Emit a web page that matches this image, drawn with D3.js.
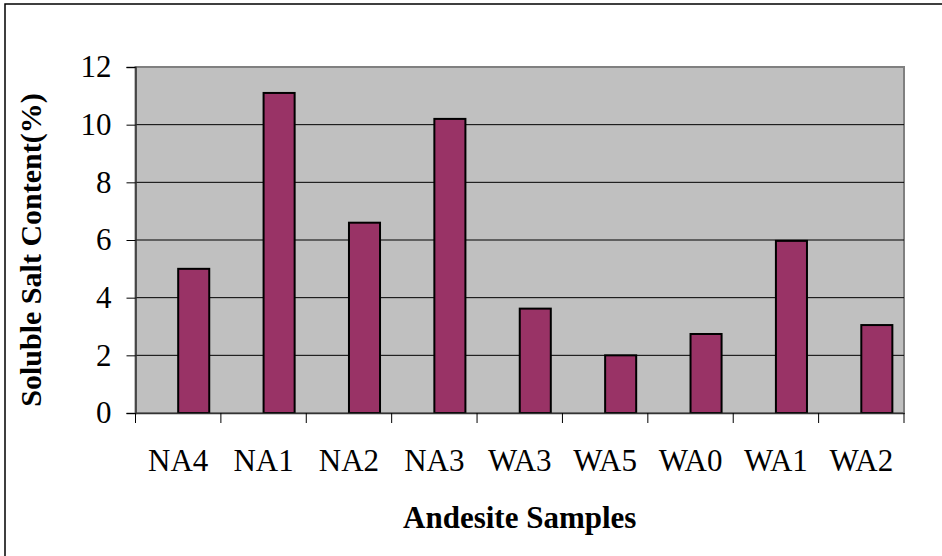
<!DOCTYPE html>
<html>
<head>
<meta charset="utf-8">
<script src="https://cdn.jsdelivr.net/npm/d3@7"></script>
<style>
  body { margin: 0; background: #fff; }
  svg { display: block; font-family: "Liberation Serif", "Times New Roman", serif; }
</style>
</head>
<body>
<svg id="chart" width="942" height="556"></svg>
<script>
// data
const samples = ["NA4", "NA1", "NA2", "NA3", "WA3", "WA5", "WA0", "WA1", "WA2"];
const saltContent = [5.0, 11.1, 6.6, 10.2, 3.62, 2.0, 2.74, 5.97, 3.05];
const yTicks = [0, 2, 4, 6, 8, 10, 12];

const svg = d3.select("#chart");
const plot = { left: 135.5, right: 904, top: 67, bottom: 413 };

// outer frame (only top/left fall inside the picture)
svg.append("rect")
  .attr("x", 5).attr("y", 4)
  .attr("width", 960).attr("height", 600)
  .attr("fill", "#fff").attr("stroke", "#000").attr("stroke-width", 1.5);

const x = d3.scaleBand()
  .domain(samples)
  .range([plot.left, plot.right])
  .padding(0);

// excel style: an empty first series, so bars sit right of centre
const xSub = d3.scaleBand()
  .domain(["blank", "value"])
  .range([0, x.bandwidth()])
  .paddingInner(0)
  .paddingOuter(0.375);

const y = d3.scaleLinear()
  .domain([0, 12])
  .range([plot.bottom, plot.top]);

// plot area
svg.append("rect")
  .attr("x", plot.left).attr("y", plot.top)
  .attr("width", plot.right - plot.left).attr("height", plot.bottom - plot.top)
  .attr("fill", "#c0c0c0").attr("stroke", "#808080").attr("stroke-width", 2);

// gridlines
svg.append("g")
  .selectAll("line")
  .data(yTicks.filter(d => d > 0 && d < 12))
  .join("line")
    .attr("x1", plot.left).attr("x2", plot.right)
    .attr("y1", d => y(d)).attr("y2", d => y(d))
    .attr("stroke", "#000").attr("stroke-width", 1);

// bars
svg.append("g")
  .selectAll("rect")
  .data(samples.map((s, i) => ({ s, v: saltContent[i] })))
  .join("rect")
    .attr("x", d => x(d.s) + xSub("value"))
    .attr("y", d => y(d.v))
    .attr("width", xSub.bandwidth())
    .attr("height", d => y(0) - y(d.v))
    .attr("fill", "#993366")
    .attr("stroke", "#000")
    .attr("stroke-width", 2);

// y axis
const yAxis = svg.append("g")
  .attr("transform", `translate(${plot.left},0)`)
  .call(d3.axisLeft(y).tickValues(yTicks).tickSize(9).tickPadding(15).tickFormat(d3.format("d")));
yAxis.select(".domain").attr("stroke", "#333").attr("stroke-width", 1.5);
yAxis.selectAll(".tick line").attr("stroke", "#000");
yAxis.selectAll("text").attr("font-size", 31).attr("fill", "#000")
  .attr("font-family", "Liberation Serif");

// x axis
const xAxis = svg.append("g")
  .attr("transform", `translate(0,${plot.bottom})`)
  .call(d3.axisBottom(x).tickSize(0).tickPadding(36));
xAxis.select(".domain").attr("stroke", "#333").attr("stroke-width", 1.5);
xAxis.selectAll("text").attr("font-size", 31).attr("fill", "#000")
  .attr("font-family", "Liberation Serif");

// category boundary ticks
svg.append("g")
  .selectAll("line")
  .data(d3.range(samples.length + 1))
  .join("line")
    .attr("x1", i => plot.left + i * x.step())
    .attr("x2", i => plot.left + i * x.step())
    .attr("y1", plot.bottom).attr("y2", plot.bottom + 10)
    .attr("stroke", "#000");

// axis titles
svg.append("text")
  .attr("x", (plot.left + plot.right) / 2)
  .attr("y", 528)
  .attr("text-anchor", "middle")
  .attr("font-weight", "bold")
  .attr("font-size", 31)
  .text("Andesite Samples");

svg.append("text")
  .attr("transform", `translate(41,250) rotate(-90)`)
  .attr("text-anchor", "middle")
  .attr("font-weight", "bold")
  .attr("font-size", 30)
  .text("Soluble Salt Content(%)");
</script>
</body>
</html>
